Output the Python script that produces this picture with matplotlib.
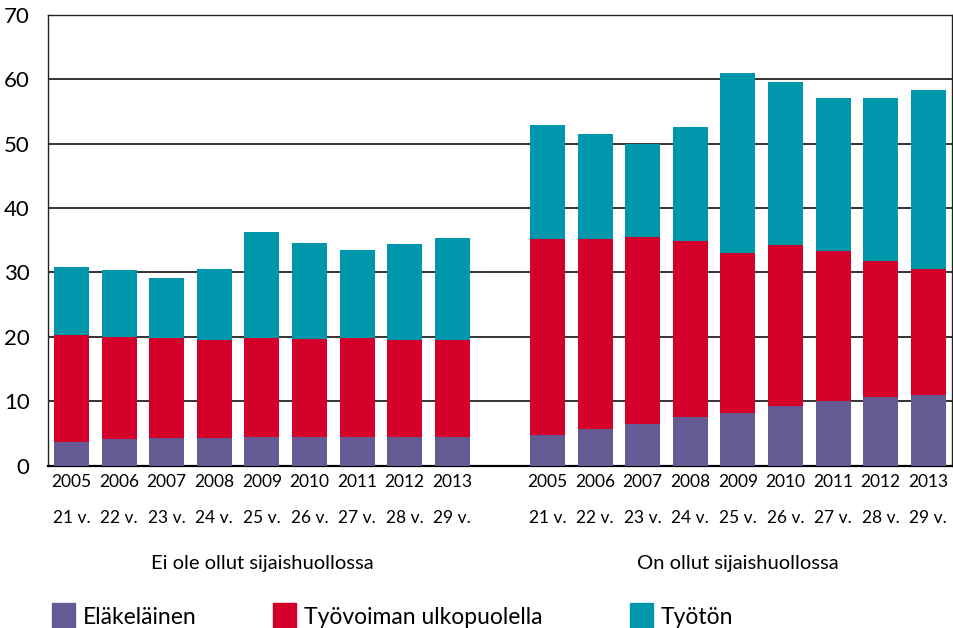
"""
Pinottu pylväskuvio: sijaishuollossa olleet vs. ei olleet, 2005-2013.
"""
import matplotlib
matplotlib.use("Agg")
import matplotlib.pyplot as plt
from matplotlib.patches import Rectangle
from matplotlib.transforms import blended_transform_factory
import numpy as np

plt.rcParams["font.family"] = ["Lato", "DejaVu Sans"]

years = ["2005", "2006", "2007", "2008", "2009", "2010", "2011", "2012", "2013"]
ages = ["21 v.", "22 v.", "23 v.", "24 v.", "25 v.", "26 v.", "27 v.", "28 v.", "29 v."]
groups = ["Ei ole ollut sijaishuollossa", "On ollut sijaishuollossa"]
series = ["Eläkeläinen", "Työvoiman ulkopuolella", "Työtön"]

# ei ole ollut sijaishuollossa
elake_ei = [3.7, 4.1, 4.3, 4.3, 4.5, 4.5, 4.5, 4.5, 4.5]
ulko_ei = [16.6, 15.9, 15.5, 15.2, 15.3, 15.2, 15.3, 15.0, 15.0]
tyoton_ei = [10.5, 10.4, 9.3, 11.0, 16.5, 14.9, 13.7, 14.9, 15.8]
# on ollut sijaishuollossa
elake_on = [4.8, 5.7, 6.5, 7.5, 8.2, 9.3, 10.0, 10.7, 11.0]
ulko_on = [30.4, 29.5, 29.0, 27.4, 24.8, 25.0, 23.3, 21.1, 19.5]
tyoton_on = [17.7, 16.3, 14.5, 17.7, 27.9, 25.2, 23.8, 25.3, 27.8]

colors = ["#655A94", "#D5002A", "#0096AC"]

n = len(years)
x = np.concatenate([np.arange(n), np.arange(n) + n + 1])
elake = np.array(elake_ei + elake_on)
ulko = np.array(ulko_ei + ulko_on)
tyoton = np.array(tyoton_ei + tyoton_on)

fig = plt.figure(figsize=(9.54, 6.28), dpi=100)
ax = fig.add_axes([0.050, 0.2584, 0.948, 0.7182])

w = 0.735
ax.bar(x, elake, w, color=colors[0], zorder=3)
ax.bar(x, ulko, w, bottom=elake, color=colors[1], zorder=3)
ax.bar(x, tyoton, w, bottom=elake + ulko, color=colors[2], zorder=3)

ax.set_xlim(-0.5, 2 * n + 0.5)
ax.set_ylim(0, 70)
ax.set_yticks(range(0, 71, 10))
ax.yaxis.grid(True, color="#333333", linewidth=1.4, zorder=1)
ax.tick_params(axis="y", length=0, pad=13, labelsize=16)
ax.tick_params(axis="x", length=0, pad=6, labelsize=12.5)
ax.set_yticklabels([str(v) for v in range(0, 71, 10)])
for lab in ax.get_yticklabels():
    lab.set_verticalalignment("center_baseline")
ax.set_xticks(x)
ax.set_xticklabels(years * 2)
for s in ["left", "top", "right"]:
    ax.spines[s].set_linewidth(1.0)
    ax.spines[s].set_color("#222222")
ax.spines["bottom"].set_linewidth(1.6)
ax.spines["bottom"].set_color("black")

trans = blended_transform_factory(ax.transData, ax.transAxes)
for xi, a in zip(x, ages * 2):
    ax.text(xi, -0.117, a, transform=trans, ha="center", va="center", fontsize=12.5)
ax.text((n - 1) / 2, -0.217, groups[0], transform=trans, ha="center", va="center", fontsize=14.5)
ax.text(n + 1 + (n - 1) / 2, -0.217, groups[1], transform=trans, ha="center", va="center", fontsize=14.5)

# selite
leg_x = [52, 273, 630]
for lx, lab, c in zip(leg_x, series, colors):
    fig.patches.append(Rectangle((lx / 954, 0), 23 / 954, 25 / 628,
                                 transform=fig.transFigure, color=c))
    fig.text((lx + 31) / 954, 10 / 628, lab, fontsize=16.5, va="center", ha="left")

plt.savefig("out.png", dpi=100)
